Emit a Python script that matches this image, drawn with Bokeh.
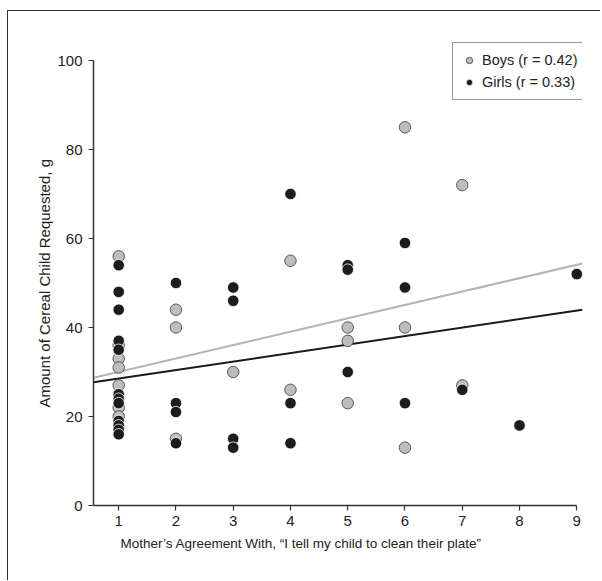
from bokeh.plotting import figure
from bokeh.models import Range1d, Legend, LegendItem, FixedTicker, Title
from bokeh.embed import file_html
from bokeh.resources import INLINE

# ---- data ----
agreement_ticks = [1, 2, 3, 4, 5, 6, 7, 8, 9]
cereal_ticks = [0, 20, 40, 60, 80, 100]

boys_x = [1, 1, 1, 1, 1, 1, 1,
          2, 2, 2,
          3,
          4, 4,
          5, 5, 5,
          6, 6, 6,
          7, 7]
boys_y = [56, 36, 33, 31, 27, 22, 20,
          44, 40, 15,
          30,
          55, 26,
          40, 37, 23,
          85, 40, 13,
          72, 27]

girls_x = [1, 1, 1, 1, 1, 1, 1, 1, 1, 1, 1, 1,
           2, 2, 2, 2,
           3, 3, 3, 3,
           4, 4, 4,
           5, 5, 5,
           6, 6, 6,
           7,
           8,
           9]
girls_y = [54, 48, 44, 37, 35, 25, 24, 23, 19, 18, 17, 16,
           50, 23, 21, 14,
           49, 46, 15, 13,
           70, 23, 14,
           54, 53, 30,
           59, 49, 23,
           26,
           18,
           52]

# regression lines (end points)
fit_x = [0.56, 9.1]
boys_fit_y = [28.7, 54.4]
girls_fit_y = [27.7, 44.0]

legend_labels = ["Boys (r = 0.42)", "Girls (r = 0.33)"]
x_title = "Mother\u2019s Agreement With, \u201cI tell my child to clean their plate\u201d"
y_title = "Amount of Cereal Child Requested, g"

FONT = "Liberation Sans"
TXT = "#222222"

p = figure(width=593, height=570, output_backend="svg", toolbar_location=None,
           x_range=Range1d(0.56, 9.1), y_range=Range1d(0, 104.5),
           min_border_left=85, min_border_right=19, min_border_top=29,
           min_border_bottom=76)
p.styles = {"border-left": "1px solid #333333", "border-top": "1px solid #333333",
            "margin-top": "10px", "margin-left": "7px"}
p.outline_line_color = None
p.grid.visible = False
p.background_fill_color = "white"
p.border_fill_color = "white"

p.line(fit_x, boys_fit_y, line_color="#b4b4b4", line_width=2)
p.line(fit_x, girls_fit_y, line_color="#1a1a1a", line_width=2)

boys = p.scatter(boys_x, boys_y, size=11.5, fill_color="#bdbdbd",
                 line_color="#3a3a3a", line_width=0.8)
girls = p.scatter(girls_x, girls_y, size=11.5, fill_color="#1c1c1c",
                  line_color="white", line_width=0.8)

for ax in (p.xaxis[0], p.yaxis[0]):
    ax.axis_line_color = "#333333"
    ax.axis_line_width = 1.5
    ax.major_tick_line_color = "#333333"
    ax.major_tick_line_width = 1.2
    ax.major_tick_out = 5
    ax.major_tick_in = 0
    ax.minor_tick_line_color = None
    ax.major_label_text_font = FONT
    ax.major_label_text_font_size = "15px"
    ax.major_label_text_color = TXT

p.xaxis.ticker = FixedTicker(ticks=agreement_ticks)
p.yaxis.ticker = FixedTicker(ticks=cereal_ticks)
p.xaxis.bounds = (0.56, 9)
p.yaxis.bounds = (0, 100)
p.xaxis.major_label_standoff = 5
p.yaxis.major_label_standoff = 6

xt = Title(text=x_title, align="left", offset=27, standoff=10,
           text_font=FONT, text_font_size="13.5px", text_font_style="normal",
           text_color=TXT)
p.add_layout(xt, "below")
yt = Title(text=y_title, align="left", offset=98, standoff=3,
           text_font=FONT, text_font_size="15px", text_font_style="normal",
           text_color=TXT)
p.add_layout(yt, "left")

legend = Legend(items=[LegendItem(label=legend_labels[0], renderers=[boys]),
                       LegendItem(label=legend_labels[1], renderers=[girls])],
                location=(359, 405))
legend.border_line_color = "#333333"
legend.border_line_width = 1
legend.background_fill_alpha = 1
legend.padding = 8
legend.spacing = 4
legend.margin = 0
legend.glyph_width = 16
legend.glyph_height = 18
legend.label_height = 18
legend.label_standoff = 5
legend.label_text_font = FONT
legend.label_text_font_size = "14.5px"
legend.label_text_color = TXT
p.add_layout(legend, "center")

open("out.html", "w").write(file_html(p, INLINE))
